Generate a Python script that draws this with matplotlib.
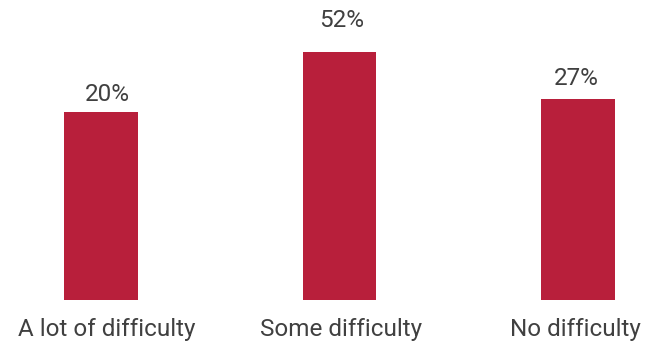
import numpy as np
from matplotlib import pyplot as plt

categories = ['A lot of difficulty', 'Some difficulty', 'No difficulty']
values = [20, 52, 27]
labels = ['20%', '52%', '27%']

# bars rise from a floor below zero
base = -80

plt.rcParams['font.family'] = ['Roboto', 'DejaVu Sans']
text_color = '#404040'

fig = plt.figure(figsize=(6.46, 3.44), dpi=100)
ax = fig.add_axes([0, 44 / 344, 1, 300 / 344])

x = np.arange(len(categories))
vals = np.array(values)
bars = ax.bar(x, vals - base, bottom=base, width=0.31, color='#B81F3B')

# text sits on a slightly tighter grid than the bars
tx = x * 0.983 + 0.025

# value labels climb a bit faster than the bars
for xi, v, lab in zip(tx, vals, labels):
    ax.text(xi, v * 1.225 + 1.4, lab, ha='center', va='baseline',
            fontsize=17.5, color=text_color)

for xi, cat in zip(tx, categories):
    ax.text(xi, -0.119, cat, ha='center', va='baseline', fontsize=17.5,
            color=text_color, transform=ax.get_xaxis_transform())

ax.set_xlim(-0.4235, 2.285)
ax.set_ylim(base, 79.4)
ax.set_xticks([])
ax.set_yticks([])
for s in ax.spines.values():
    s.set_visible(False)

fig.savefig('out.png', dpi=100)
